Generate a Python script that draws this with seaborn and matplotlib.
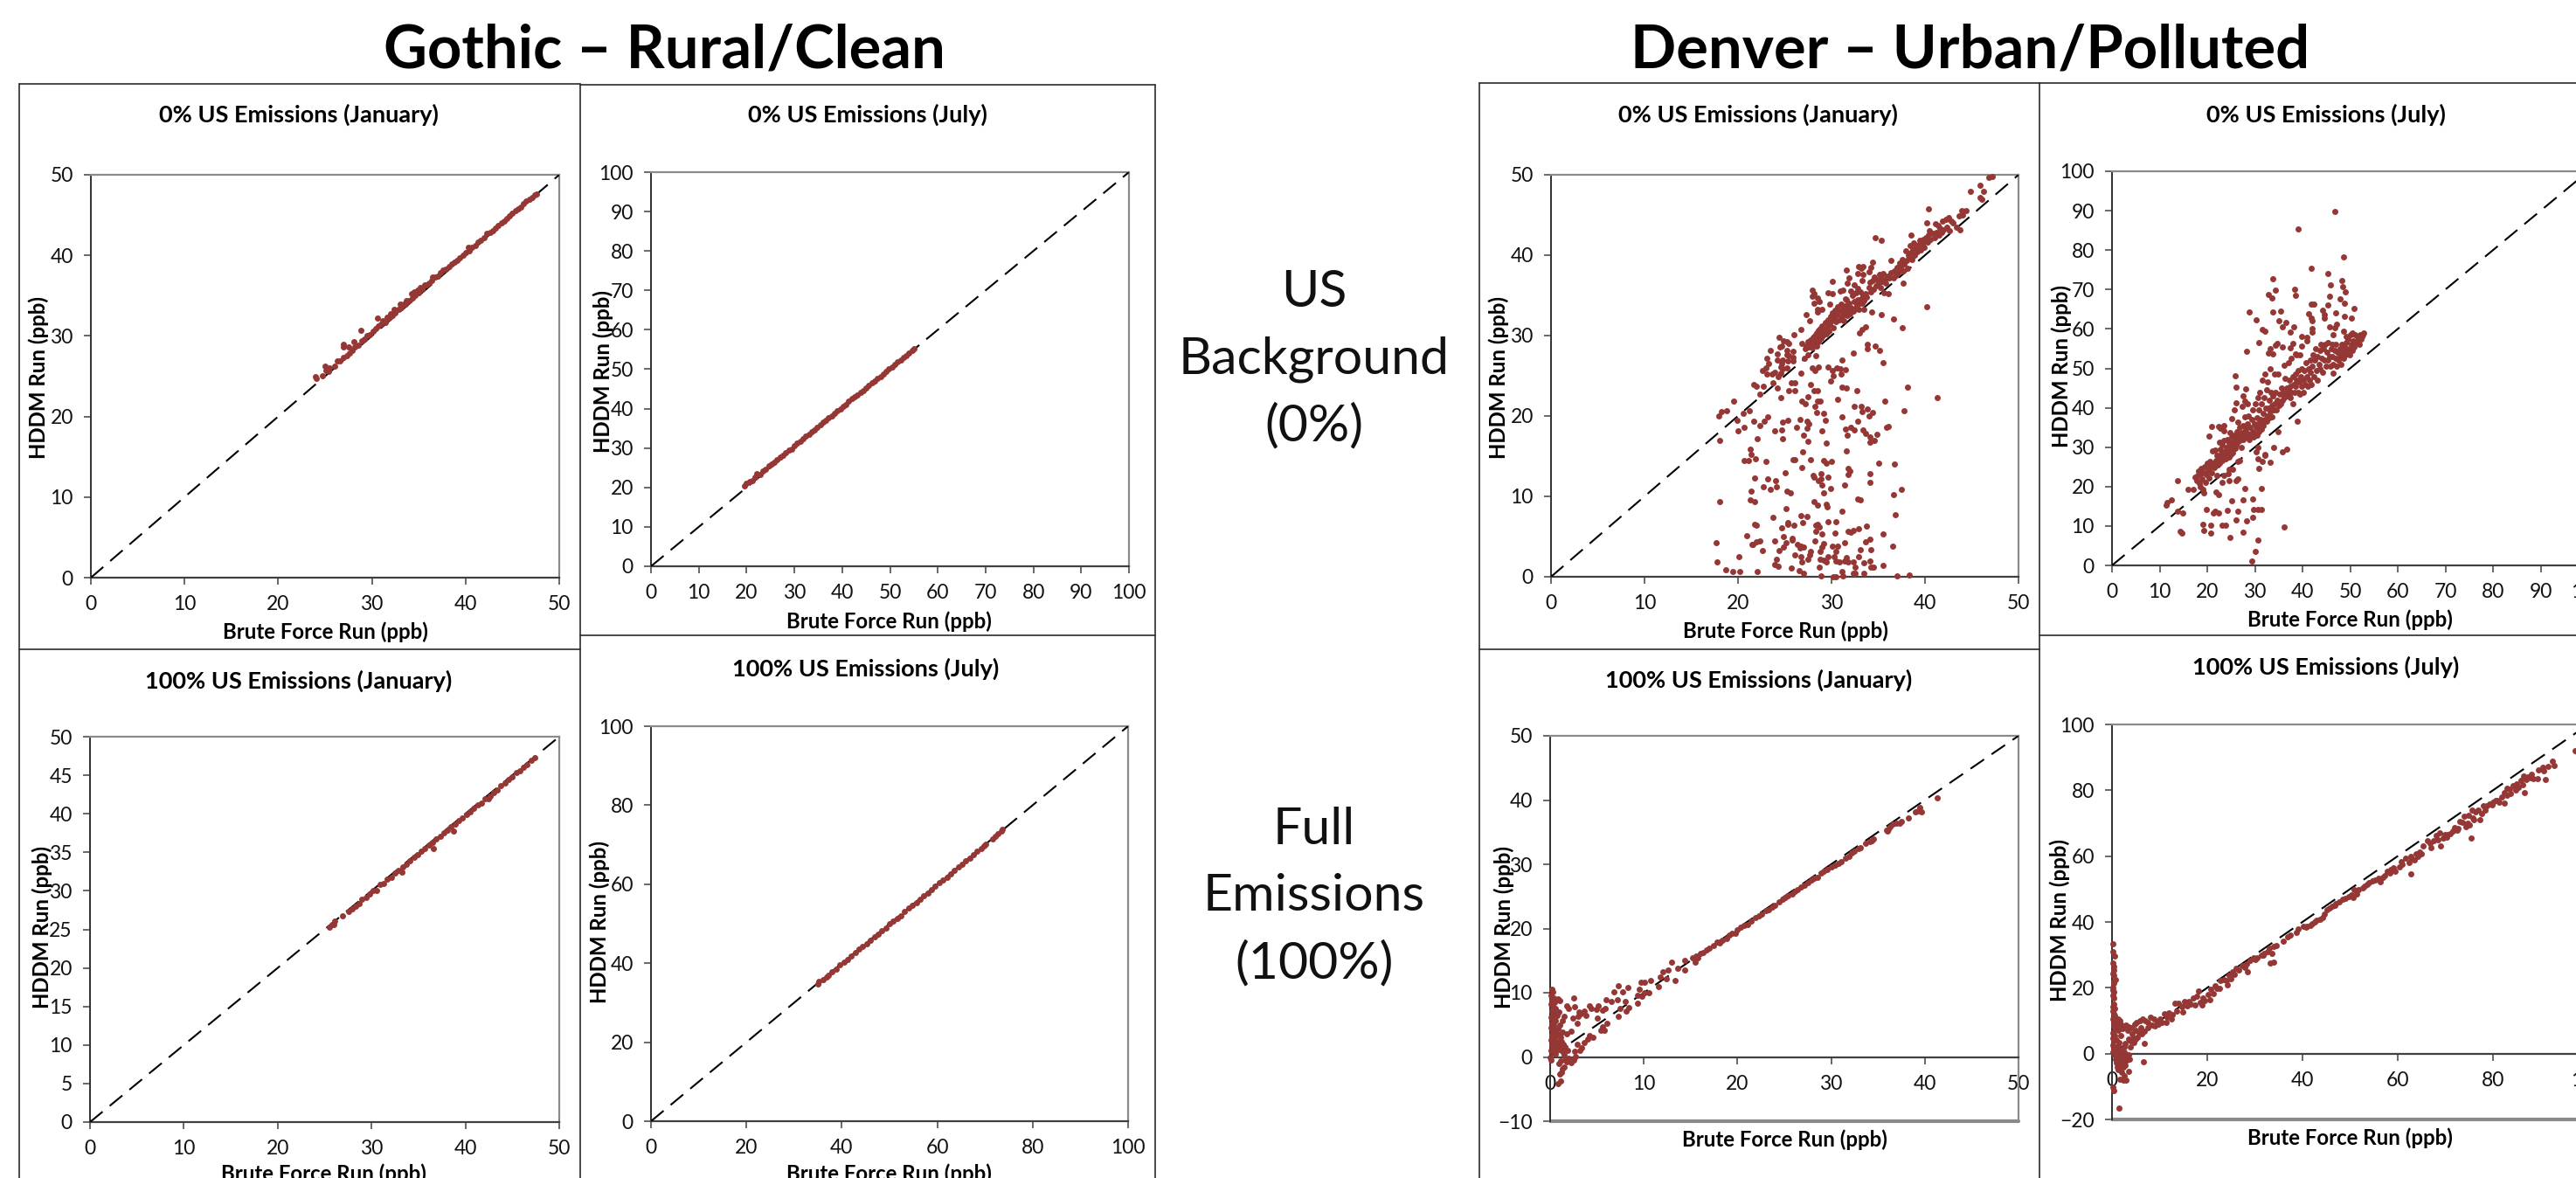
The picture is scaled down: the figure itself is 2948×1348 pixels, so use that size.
import matplotlib
matplotlib.use("Agg")
import matplotlib.pyplot as plt
from matplotlib.lines import Line2D
import pandas as pd
import seaborn as sns

W, H = 2948, 1348
RED = "#953735"

# valores (Brute Force, HDDM)
got_jan0 = [(24.0,24.9),(24.1,24.7),(24.7,25.1),(25.0,26.3),(25.1,25.7),(25.5,26.0),(25.4,25.6),(26.0,26.2),(26.3,26.9),(26.6,26.9),(27.0,29.0),(27.0,28.6),(27.5,28.6),(28.1,29.3),(28.8,30.7),(30.6,32.2),
(27.0,27.3),(27.3,27.6),(27.6,27.9),(27.9,28.2),(28.2,28.6),(28.5,28.9),(28.9,29.4),(29.2,29.6),(29.5,30.0),(29.8,30.2),(30.1,30.6),(30.4,30.9),(30.7,31.2),(31.0,31.5),(31.2,31.9),(31.4,31.7),(31.6,32.3),(31.8,32.2),(32.0,32.8),(32.2,32.5),(32.4,33.3),(32.5,32.9),(32.8,33.3),(33.0,34.0),(33.1,33.5),(33.4,33.9),(33.6,34.0),(33.7,34.4),(34.0,34.4),(34.2,35.2),(34.3,34.7),(34.5,35.5),(34.6,35.0),(34.9,35.7),(35.0,35.4),(35.2,36.0),(35.4,35.8),(35.6,36.3),(35.8,36.3),(36.1,36.6),(36.4,36.9),(36.5,37.3),(36.8,37.3),(37.0,37.4),(37.3,37.9),(37.6,38.2),(37.9,38.3),(38.2,38.6),(38.5,38.9),(38.8,39.1),(39.1,39.4),(39.4,39.7),(39.7,40.0),(40.0,40.4),(40.3,41.0),(40.4,40.6),(40.7,41.0),(41.0,41.2),(41.3,41.6),(41.6,41.9),(42.0,42.2),(42.3,42.7),(42.6,42.8),(42.9,43.1),(43.2,43.4),(43.5,43.7),(43.8,44.0),(44.1,44.3),(44.4,44.6),(44.7,44.9),(45.0,45.2),(45.3,45.5),(45.6,45.8),(45.9,46.0),(46.2,46.4),(46.5,46.7),(46.8,47.0),(47.1,47.2),(47.4,47.5),(47.6,47.6)]

got_jul0 = [(19.5,20.4),(20.0,21.0),(20.6,21.4),(21.2,21.8),(21.8,22.6),(22.2,23.4),(22.8,23.2),(23.4,24.1),(24.0,24.6),(24.6,25.4),(25.2,26.0),(25.8,26.4),(26.4,27.0),(27.0,27.7),(27.6,28.2),(28.2,28.8),(28.8,29.4),(29.4,29.8),(30.0,30.6),(30.6,31.2),(31.2,31.8),(31.8,32.4),(32.4,33.0),(33.0,33.5),(33.6,34.1),(34.2,34.7),(34.8,35.3),(35.4,35.9),(36.0,36.5),(36.6,37.0),(37.2,37.6),(37.8,38.2),(38.4,38.8),(39.0,39.4),(39.6,40.0),(40.2,40.5),(40.8,41.1),(41.4,41.8),(42.0,42.6),(42.6,43.0),(43.2,43.5),(43.8,44.1),(44.4,44.6),(45.0,45.2),(45.6,45.9),(46.2,46.5),(46.8,47.0),(47.4,47.6),(48.0,48.2),(48.6,48.8),(49.2,49.4),(49.8,50.0),(50.4,50.5),(51.0,51.2),(51.6,51.8),(52.2,52.4),(52.8,53.0),(53.4,53.5),(54.0,54.2),(54.6,54.8),(55.0,55.2)]

got_jan100 = [(25.5,25.3),(25.8,25.6),(26.0,25.6),(26.1,26.1),(26.9,26.8),(27.6,27.3),(27.9,27.7),(28.3,28.0),(28.7,28.4),(29.0,28.9),(29.4,29.1),(29.8,29.6),(30.2,30.0),(30.5,30.1),(30.9,30.8),(31.3,31.0),(31.7,31.5),(32.1,31.8),(32.5,32.3),(32.9,32.6),(33.2,32.4),(33.3,33.1),(33.7,33.5),(34.1,33.9),(34.5,34.3),(34.9,34.7),(35.3,35.1),(35.7,35.5),(36.1,35.9),(36.5,36.3),(36.6,35.5),(36.9,36.7),(37.3,37.1),(37.7,37.5),(38.1,37.9),(38.5,38.3),(38.7,37.8),(38.9,38.7),(39.3,39.1),(39.7,39.5),(40.1,39.9),(40.5,40.3),(40.9,40.7),(41.3,41.1),(41.7,41.4),(42.1,41.9),(42.5,42.0),(42.6,42.3),(43.0,42.8),(43.4,43.1),(43.8,43.6),(44.2,44.0),(44.6,44.4),(45.0,44.8),(45.4,45.3),(45.8,45.6),(46.2,46.0),(46.6,46.4),(47.0,46.9),(47.4,47.3)]

got_jul100 = [(35.0,34.8),(35.2,35.4),(36.0,35.9),(36.8,36.5),(37.2,37.0),(38.0,37.8),(38.8,38.6),(39.6,39.5),(40.4,40.2),(41.2,41.0),(42.0,41.8),(42.8,42.6),(43.6,43.5),(44.4,44.2),(45.2,45.0),(46.0,45.8),(46.8,46.7),(47.6,47.4),(48.4,48.2),(49.2,49.0),(50.0,49.9),(50.8,50.6),(51.6,51.4),(52.4,52.1),(53.2,53.0),(54.0,53.9),(54.8,54.6),(55.6,55.4),(56.4,56.1),(57.2,57.0),(58.0,57.8),(58.8,58.7),(59.6,59.5),(60.4,60.3),(61.2,61.0),(62.0,61.8),(62.8,62.7),(63.6,63.5),(64.4,64.3),(65.2,65.0),(66.0,65.9),(66.8,66.7),(67.6,67.5),(68.4,68.3),(69.2,69.0),(69.8,69.6),(70.2,70.2),(71.6,71.4),(72.2,72.1),(72.8,72.7),(73.4,73.4),(73.7,73.8)]

den_jan0 = [(17.9,20.0),(18.2,20.5),(18.8,20.6),(19.5,21.8),(18.0,17.0),(18.0,9.4),(17.7,4.2),(17.8,1.9),(18.7,0.9),(19.4,0.7),(20.2,0.6),(20.1,2.5),(19.9,19.5),(20.0,18.1),(20.6,20.3),(20.7,18.6),(21.2,20.7),(21.7,19.3),(22.3,18.8),(22.8,19.3),(23.2,19.9),(22.1,17.2),(21.3,15.9),(21.4,15.2),(20.7,14.5),(21.1,14.5),(21.9,14.7),(23.0,14.3),(21.8,12.3),(23.2,12.2),(24.0,12.0),(22.7,11.2),(23.5,10.9),(24.1,11.2),(21.4,10.6),(21.3,9.6),(21.8,9.4),(23.7,7.4),(21.8,6.5),(22.0,6.4),(20.9,5.1),(21.5,4.0),(21.6,4.0),(22.0,4.3),(22.3,4.5),(22.6,3.3),(23.9,4.5),(22.1,0.6),(24.1,2.2),(23.9,1.5),(24.3,1.3),(24.4,3.3),(24.9,3.7),(24.9,5.0),(25.1,4.2),(24.7,6.1),(25.3,6.5),(25.3,6.7),(26.0,6.4),(25.8,4.6),(25.8,4.8),(26.1,2.7),(25.7,1.1),(26.5,0.8),(27.0,0.4),(26.7,2.5),(26.8,1.9),(26.4,4.0),(26.6,3.6),(26.7,3.8),(27.0,3.7),(26.7,7.6),(27.4,7.5),(26.9,6.7),(25.1,8.5),(25.2,10.6),(25.6,10.4),(25.0,12.9),(25.9,14.6),(26.1,14.6),(26.8,13.6),(26.9,15.5),(27.8,14.6),(27.5,16.8),(27.0,17.6),(26.3,18.6),(27.4,18.5),(26.6,19.6),(27.4,19.4),(27.6,19.0),(24.7,18.3),(23.9,18.2),(24.8,17.2),(24.8,19.2),(25.3,19.5),(24.6,22.3),(25.4,23.2),(26.1,23.2),(25.7,24.1),(26.1,24.1),(26.8,21.9),(27.2,21.5),(27.5,22.4),(27.8,23.9),(28.1,23.2),(28.5,23.2),(28.2,21.2),(28.5,21.9),(28.8,21.8),(28.4,20.4),(29.2,20.3),(29.3,19.5),(29.0,18.1),(29.4,16.6),(29.2,14.5),(29.4,14.1),(30.0,14.4),(28.0,12.6),(28.1,12.4),(28.9,12.8),(28.6,12.0),(28.9,12.2),(29.6,12.4),(29.0,11.4),(29.9,11.0),(29.2,10.4),(28.1,9.4),(28.5,8.9),(29.4,9.0),(29.5,8.7),(31.1,8.2),
(30.7,22.1),(31.1,19.9),(31.1,23.6),(31.6,23.5),(32.7,23.1),(32.4,21.2),(33.2,21.2),(33.8,20.9),(33.3,20.5),(34.4,20.4),(34.0,20.0),(32.8,19.3),(31.5,18.4),(32.1,18.6),(32.4,18.3),(31.7,17.6),(33.4,18.3),(33.6,17.8),(34.1,17.4),(34.9,17.7),(34.6,17.0),(34.1,16.7),(35.9,18.6),(36.1,18.7),(35.7,21.9),(37.8,20.6),(38.1,23.6),(41.3,22.3),(40.2,33.6),(31.6,15.6),(31.8,13.5),(32.0,13.1),(31.8,12.7),(31.4,11.4),(35.0,14.1),(36.7,14.0),(34.1,12.8),(34.1,11.7),(32.8,9.7),(33.1,9.6),(36.6,10.2),(37.5,10.9),(36.8,7.7),(36.5,3.8),(35.5,5.3),(35.5,1.4),
(28.3,6.4),(28.5,6.5),(28.7,6.2),(28.3,5.6),(29.0,5.3),(29.6,6.8),(30.5,6.9),(30.4,5.4),(28.2,4.5),(29.2,4.1),(29.0,3.7),(28.8,3.2),(27.8,3.2),(27.7,2.7),(27.5,2.2),(28.8,2.2),(29.2,2.1),(29.4,1.9),(29.6,2.5),(28.7,1.2),(28.9,0.1),(30.1,3.8),(30.7,3.8),(31.4,4.2),(30.5,3.2),(30.3,2.5),(30.5,2.0),(30.8,1.8),(31.6,2.4),(31.4,2.0),(31.8,1.8),(32.3,1.9),(31.1,0.7),(31.2,0.1),(30.5,0.0),(30.2,0.0),(32.3,0.4),(32.5,0.4),(33.5,0.4),(32.5,1.2),(31.8,5.6),(32.1,5.5),(32.3,5.8),(32.9,6.0),(33.7,6.3),(34.1,4.7),(33.6,4.3),(33.1,3.4),(34.2,3.4),(32.9,2.5),(34.1,2.0),(33.5,1.7),(34.2,1.2),(34.5,1.2),(37.0,0.1),(38.3,0.2),
(29.9,24.4),(30.2,25.0),(30.1,25.6),(29.6,26.1),(30.6,26.0),(30.9,25.9),(31.0,25.2),(31.5,25.8),(31.1,27.0),(32.3,27.8),(28.6,26.1),(27.9,26.0),(28.2,25.6),(26.7,25.3),(33.8,28.9),(33.8,28.4),(34.7,28.7),(35.1,28.2),(35.5,26.6),(33.0,30.3),(33.3,30.8),(33.6,31.1),(37.6,31.0),(36.6,32.1),(35.3,32.6),(34.3,32.9),(33.5,33.3),(37.7,36.5),(34.7,42.2),(35.3,41.9),(40.4,45.8),
(21.7,23.9),(22.0,23.7),(22.7,23.7),(22.3,22.7),(23.7,24.1),(24.2,23.5),(24.3,24.9),(24.6,25.3),(22.6,25.7),(23.1,25.2),(23.6,25.2),(23.9,25.4),(23.0,26.0),(23.3,26.5),(23.1,27.2),(23.5,28.1),(24.2,27.0),(24.2,27.7),(24.5,28.6),(24.4,29.8),(24.7,28.7),(24.9,29.4),(25.2,29.2),(25.4,29.0),(24.8,27.0),(24.7,26.5),(24.6,26.1),(24.8,25.9),(25.2,26.0),(25.3,26.8),(25.2,27.6),(25.4,27.5),(25.2,28.2),(25.9,28.0),(25.9,27.3),(25.9,26.9),(26.0,30.1),(26.7,30.8),(26.8,29.0),(27.1,27.2),(27.2,28.4),(27.3,32.6),(27.7,31.8),(27.5,27.6),(28.3,27.5),(27.9,35.6),(28.1,35.2),(27.9,34.9),(28.5,34.7),(28.7,34.2),(28.1,34.0),(28.5,33.3),(28.5,32.9),(29.0,33.3),(29.8,33.9),(29.6,35.3),(30.1,35.2),(30.1,36.7),
(27.3,28.7),(27.5,29.2),(27.6,28.6),(27.7,29.0),(27.8,29.5),(27.9,28.5),(28.0,29.8),(28.0,29.2),(28.1,28.8),(28.2,30.0),(28.3,29.4),(28.4,28.7),(28.4,30.3),(28.5,29.8),(28.6,30.6),(28.6,29.2),(28.7,30.1),(28.8,30.9),(28.9,29.7),(29.0,30.4),(29.0,31.2),(29.1,30.0),(29.2,30.7),(29.3,31.6),(29.4,30.2),(29.5,31.0),(29.6,32.0),(29.7,30.5),(29.8,31.4),(29.9,32.4),(30.0,31.8),(30.1,32.8),(30.2,31.0),(30.3,32.2),(30.4,33.2),(30.5,31.7),(30.6,32.6),(30.7,33.6),(30.8,32.0),(30.9,33.0),(31.0,33.9),(31.1,32.4),(31.2,33.3),(31.3,31.8),(31.4,32.8),(31.5,33.7),(31.6,34.5),(31.7,32.5),(31.8,33.2),(31.9,34.0),(32.0,32.7),(32.1,33.5),(32.2,35.0),(32.3,33.0),(32.4,34.2),(32.5,33.4),(32.6,35.3),(32.7,33.8),(32.8,34.5),(32.9,33.3),(33.0,34.0),(33.1,35.4),(33.2,34.6),(33.3,34.0),(33.4,35.0),(33.5,34.4),(33.6,35.2),(33.7,34.8),
(31.6,38.2),(31.9,37.2),(31.7,36.5),(32.9,38.6),(33.2,38.4),(33.4,38.6),(32.8,37.7),(33.4,37.6),(33.3,36.9),(34.4,39.1),(34.2,38.5),(34.0,37.9),(32.4,36.3),(32.8,35.9),(32.1,35.5),(31.2,35.6),(30.9,35.5),(31.5,34.6),
(34.0,36.0),(34.1,36.6),(34.2,35.4),(34.4,36.9),(34.5,35.8),(34.6,37.3),(34.8,36.2),(34.9,37.0),(35.0,36.5),(35.1,37.6),(35.2,36.0),(35.3,37.2),(35.4,36.7),(35.5,37.7),(35.6,35.3),(35.7,37.0),(35.8,36.5),(36.0,37.4),(36.1,35.2),(36.2,37.2),(36.4,37.8),(36.6,37.2),(36.4,39.3),(36.7,38.0),(36.9,37.5),(37.0,38.5),(37.1,37.8),(37.3,39.0),(37.4,38.2),(37.5,38.7),(37.6,39.5),(37.7,38.0),(37.8,38.9),(37.9,40.5),(38.0,39.3),(38.1,38.4),(38.2,40.0),(38.3,39.7),(38.4,41.2),(38.5,40.3),(38.6,39.5),(38.7,40.7),(38.8,41.5),(38.9,40.0),(39.0,40.9),(38.5,42.5),(39.2,40.4),(39.3,41.3),(39.4,41.8),(39.5,40.7),(39.7,41.4),(39.8,42.0),(39.9,41.0),(40.0,41.7),(40.1,42.2),(40.2,44.0),(40.3,41.6),(40.4,42.5),(40.5,43.0),(40.6,42.0),(40.8,42.7),(41.0,42.2),(41.1,43.9),(41.2,42.8),(41.4,43.7),(41.5,42.5),(41.6,43.4),(41.8,42.8),(41.9,44.2),(42.0,43.2),(42.2,44.5),(42.3,43.5),(42.5,44.7),(42.6,43.0),(42.8,44.2),(43.0,44.0),(43.4,43.5),(43.7,43.1),(43.6,44.9),(43.9,45.5),(44.0,45.0),(44.4,45.5),(44.9,47.9),(45.9,47.2),(46.1,47.0),(45.9,48.7),(46.3,47.9),(46.8,49.7),(47.2,49.8)]

den_jul0 = [(46.8,89.7),(39.0,85.4),(48.6,78.2),(41.9,75.4),(45.4,74.1),(48.2,72.2),(45.8,71.1),(48.5,70.7),(49.0,69.4),(45.7,68.3),(47.9,67.6),(48.8,66.5),(45.3,66.0),(50.8,65.1),(41.8,66.4),(42.4,66.3),(44.2,64.7),(44.6,63.7),(44.6,62.7),(41.3,63.8),(41.8,62.8),(42.0,62.1),(46.9,64.0),(48.8,63.2),(50.3,62.7),(45.7,60.6),(47.1,61.2),(46.8,60.2),(42.1,60.0),(42.1,59.1),(46.4,58.5),(33.8,72.7),(34.3,69.8),(38.3,70.0),(38.5,68.6),(32.9,68.8),(33.5,67.8),(28.8,64.3),(30.3,62.4),(33.8,64.4),(35.4,64.6),(35.1,62.0),(36.6,61.7),(35.7,60.5),(38.1,60.6),(37.4,59.1),(31.5,59.9),(32.2,59.5),(30.9,56.6),(28.2,54.3),(33.2,55.0),(32.9,53.9),(33.8,53.7),(34.4,55.8),(34.7,56.3),(35.7,55.4),(37.9,56.3),(37.4,55.1),(39.8,58.0),(40.9,57.9),(41.0,56.9),(39.8,55.6),(38.5,53.7),(38.8,53.5),(39.4,53.4),(25.9,48.2),(26.0,45.3),(28.1,44.9),(27.6,43.1),(26.0,41.3),(27.9,41.6),(28.5,41.1),(25.7,39.4),(27.4,40.4),(25.1,37.3),(27.8,37.6),(26.5,36.3),(20.9,35.3),(22.3,35.3),(22.8,34.8),(23.5,35.5),(23.5,34.1),(20.4,32.8),(22.6,31.3),
(13.8,21.6),(12.5,16.6),(11.6,16.0),(11.3,15.2),(13.8,13.7),(14.9,13.3),(14.3,8.7),(14.7,8.3),(15.9,19.4),(17.1,19.4),(19.0,10.5),(19.2,8.8),(20.7,10.2),(20.7,8.2),(19.9,14.3),(21.2,13.3),(21.7,13.7),(22.4,13.2),(23.2,10.1),(23.8,10.1),(24.7,7.2),(24.3,13.9),(25.2,16.3),(26.4,13.8),(26.0,11.6),(28.2,11.3),(27.5,8.5),(27.6,16.7),(27.8,19.5),(29.5,16.8),(29.7,14.2),(29.6,12.1),(30.7,14.1),(31.3,14.1),(31.3,19.6),(30.7,6.5),(30.1,3.5),(29.3,1.1),(36.2,9.7),(21.9,18.7),(22.4,17.9),(23.2,21.0),(24.6,21.5),(26.1,21.6),(26.4,22.0),(23.5,22.9),(24.4,23.2),(25.3,24.5),(24.6,24.5),(26.5,26.3),(26.8,26.5),(33.2,26.2),(32.2,28.2),(32.1,27.9),(30.9,24.7),(31.6,26.4),(30.6,27.1),(30.3,28.8),(30.7,29.9),(34.0,30.0),(35.7,28.9),(36.7,29.4),(34.9,34.0),(38.9,36.6),(46.4,48.8),
(17.5,22.3),(17.8,21.5),(18.0,22.8),(18.2,24.0),(18.3,20.8),(18.5,23.2),(18.6,20.0),(18.8,24.6),(18.9,22.0),(19.0,19.2),(19.2,23.5),(19.3,18.3),(19.4,25.0),(19.6,21.0),(19.8,23.0),(20.0,26.0),(20.2,24.2),(20.4,22.2),(20.6,26.3),(20.8,25.0),(21.0,23.5),(21.1,29.0),(21.3,26.0),(21.5,24.8),(21.6,29.2),(21.8,26.6),(22.0,22.8),(22.0,28.0),(22.2,25.5),(22.4,27.2),(22.6,26.0),(22.7,29.5),(22.9,28.3),(23.1,26.6),(23.2,30.5),(23.4,27.5),(23.5,31.7),(23.6,28.8),(23.8,27.0),(24.0,30.0),(24.1,28.0),(24.2,32.0),(24.3,29.0),(24.5,27.6),(24.6,31.0),(24.7,29.5),(24.8,33.7),(24.9,28.2),(25.0,30.6),(25.1,32.5),(25.2,29.0),(25.3,31.2),(25.4,28.7),(25.5,30.0),(25.6,33.0),(25.7,31.5),(25.8,29.8),(26.0,32.0),(26.1,30.5),(26.2,34.0),(26.3,31.0),(26.5,33.0),(26.7,31.8),(26.8,35.0),(27.0,32.5),(27.1,30.0),(27.3,33.8),(27.5,32.0),(27.6,35.5),(27.8,33.0),(28.0,34.5),(28.2,32.5),(28.4,36.0),(28.5,33.5),(28.7,38.0),(28.8,32.0),(29.0,35.0),(29.2,33.0),(29.3,37.0),(29.5,34.0),(29.6,39.5),(29.7,32.5),(29.9,36.0),(30.0,33.5),(30.1,41.0),(30.2,35.0),(30.4,37.5),(30.5,33.0),(30.6,42.5),(30.7,36.0),(30.8,34.0),(30.9,39.5),(31.0,35.0),(31.1,44.0),(31.2,37.0),(31.3,34.5),(31.4,41.0),(31.5,36.0),(31.6,47.0),(31.7,38.5),(31.8,35.5),(32.0,42.5),(32.1,37.0),(32.2,48.5),(32.3,40.0),(32.4,36.5),(32.5,44.5),(32.6,38.0),(32.7,46.5),(32.8,40.0),(33.0,37.5),(33.1,42.0),(33.2,50.0),(33.3,39.0),(33.4,44.0),(33.5,37.8),(33.6,40.5),(33.8,43.0),(34.0,39.5),(34.1,48.5),(34.2,41.0),(34.4,44.0),(34.5,39.5),(34.7,42.0),(34.8,48.5),(35.0,40.5),(35.2,43.5),(35.4,41.0),(35.6,45.0),(35.8,42.0),(36.0,44.0),(36.1,50.7),(36.2,42.5),(36.4,47.5),(36.5,43.5),(36.7,45.0),(36.9,43.0),(37.0,51.5),(37.1,44.5),(37.3,47.0),(37.4,42.5),(37.5,45.5),(37.6,52.5),(37.7,44.0),(37.9,48.0),(38.0,41.0),(38.1,46.0),(38.3,44.0),(38.5,48.5),(38.6,45.5),(38.8,47.0),(39.0,44.0),(39.1,49.5),(39.3,46.5),(39.4,43.5),(39.6,48.0),(39.8,45.5),(39.9,50.0),(40.1,47.0),(40.2,44.0),(40.4,49.5),(40.6,46.0),(40.7,51.5),(40.9,48.0),(41.1,45.5),(41.2,50.0),(41.4,47.0),(41.6,52.0),(41.7,49.0),(41.9,46.0),(42.1,50.5),(42.2,53.5),(42.4,48.0),(42.6,52.0),(42.7,55.0),(42.9,49.5),(43.1,53.0),(43.2,47.0),(43.4,51.0),(43.6,54.5),(43.7,50.0),(43.9,56.0),(44.1,52.5),(44.2,49.0),(44.4,55.0),(44.6,52.0),(44.8,56.0),(44.9,50.5),(45.1,54.0),(45.3,52.0),(45.4,56.5),(45.6,53.0),(45.8,50.5),(46.0,55.0),(46.2,53.0),(46.3,56.0),(46.5,51.0),(46.7,54.5),(46.9,52.5),(47.0,56.0),(47.2,50.5),(47.4,54.0),(47.6,52.0),(47.8,55.0),(47.9,53.0),(48.1,51.0),(48.2,56.0),(48.4,54.0),(48.6,52.5),(48.7,59.5),(48.8,55.5),(49.0,53.5),(49.1,58.0),(49.2,56.5),(49.4,54.5),(49.6,57.5),(49.7,55.0),(49.9,53.5),(50.1,58.5),(50.2,56.0),(50.4,54.5),(50.5,59.0),(50.7,57.0),(50.9,55.5),(51.1,58.5),(51.3,56.5),(51.5,58.0),(51.7,57.5),(51.9,56.0),(52.1,58.5),(52.3,57.5),(52.5,58.0),(52.7,58.5),(52.9,59.0)]

den_jan100 = [(41.3,40.3),(39.0,38.2),(39.3,38.3),(39.5,38.8),(39.6,38.2),(38.2,37.2),(37.5,36.7),(37.3,36.4),(36.9,36.4),(36.6,36.2),(36.3,35.8),(36.1,35.5),(35.9,35.3),(36.0,35.2),(34.5,34.0),(34.3,33.7),(34.1,33.6),(33.7,33.2),(33.1,32.6),(32.9,32.4),(32.5,32.1),(32.2,31.8),(31.9,31.2),(31.5,31.0),(31.1,30.4),(30.8,30.2),(30.4,29.9),(30.0,29.6),(29.6,29.2),(29.2,28.9),(28.9,28.6),(28.5,28.0),(28.2,27.8),(27.9,27.6),(27.5,27.2),(27.1,26.8),(26.8,26.5),(26.4,26.1),(26.1,25.8),(25.8,25.4),(25.4,25.1),(25.1,24.8),(24.8,24.5),(24.4,24.2),(24.0,23.6),(23.7,23.3),(23.3,22.9),(23.0,22.8),(22.6,22.3),(22.3,22.0),(21.9,21.7),(21.5,21.2),(21.1,20.6),(20.7,20.5),(20.3,20.2),(20.0,19.8),(19.8,19.2),(19.4,19.2),(19.1,19.0),(18.8,18.5),(18.4,18.1),(18.1,17.8),(17.8,17.9),(17.4,17.4),(17.0,16.9),(16.7,16.6),(16.3,16.3),(16.0,16.1),(15.8,15.4),(15.6,15.7),(15.5,14.7),(15.2,15.5),
(0.0,0.0),(0.1,-0.5),(0.2,10.5),(0.3,10.2),(0.1,9.6),(0.4,9.2),(0.2,8.9),(0.5,8.5),(0.1,8.2),(0.3,7.9),(0.6,7.5),(0.2,7.2),(0.4,6.9),(0.7,6.5),(0.1,6.2),(0.3,5.9),(0.6,5.6),(0.2,5.2),(0.4,4.9),(0.1,4.5),(0.5,4.2),(0.3,3.9),(0.7,3.6),(0.2,3.3),(0.5,3.0),(0.1,2.7),(0.4,2.4),(0.7,2.1),(0.2,1.8),(0.5,1.5),(0.9,1.2),(0.1,1.0),(0.3,0.7),(0.6,0.5),(0.8,9.0),(1.0,8.8),(0.9,7.0),(1.0,5.0),(1.1,3.0),(0.9,3.5),(1.2,2.4),(1.4,2.0),(1.6,1.5),(1.0,1.6),(1.3,0.9),(0.8,-4.2),(1.1,-3.8),(1.0,-2.7),(1.2,-2.4),(1.3,-1.8),(1.5,-1.5),(0.9,-1.0),(1.1,-0.6),(1.6,-0.5),(1.8,-0.8),(2.2,-0.9),(2.5,-0.5),(2.0,-0.2),(1.5,0.3),(2.7,0.1),(0.5,6.0),(0.8,4.4),(0.6,3.2),(0.8,2.4),(0.4,1.2),
(2.5,9.2),(1.8,8.0),(2.0,7.6),(2.6,7.8),(1.5,6.3),(1.3,5.6),(2.4,6.0),(2.9,5.2),(3.0,6.3),(3.3,6.8),(3.6,7.2),(4.2,7.9),(5.1,7.9),(6.0,8.9),(6.8,10.1),(7.3,11.1),(7.7,10.1),(8.3,10.8),(7.2,8.9),(8.0,8.7),(9.5,10.6),(10.1,11.7),(10.7,11.9),(9.7,11.6),(1.3,3.9),(1.8,3.6),(2.2,4.0),(4.0,2.8),(3.4,1.4),(2.9,2.0),(4.2,3.3),(4.6,3.1),(5.0,6.0),(5.6,4.7),(6.1,5.2),(5.4,4.1),(7.3,6.3),(7.5,7.6),(8.1,7.1),(9.3,8.4),(10.1,10.0),(10.5,10.0),(11.6,10.9),(11.8,12.4),(12.0,13.3),(12.4,12.2),(13.0,14.8),(13.3,11.9),(14.4,13.5),(14.4,15.0),(12.6,13.5),(13.6,13.8),(3.1,7.0),(3.8,6.4),(4.4,7.6),(5.6,7.3),(5.9,7.5),(6.5,8.6),(8.4,7.7),(9.3,9.6),(9.8,9.5),(4.9,7.4),(5.8,4.2),(3.6,2.3),(3.2,1.0),(2.6,0.9),(1.9,1.0)]

den_jul100 = [(97.2,92.0),(97.6,91.8),(92.5,88.8),(92.8,87.6),(91.5,87.3),(90.5,87.0),(90.7,85.8),(91.0,83.3),(89.5,86.1),(89.3,83.6),(88.0,84.8),(87.8,83.9),(87.3,84.0),(87.0,83.4),(86.5,84.3),(85.8,83.0),(86.2,81.8),(86.6,79.2),(85.0,82.0),(84.3,81.5),(84.7,80.0),(83.5,80.3),(83.0,80.5),(82.3,79.3),(82.4,76.0),(83.0,78.5),(81.8,78.0),(81.3,76.3),(80.5,77.0),(80.0,76.4),(79.3,75.8),(78.7,75.4),(78.0,75.3),(77.7,73.0),(77.3,71.0),(76.9,74.0),(76.3,73.5),(75.8,71.7),(75.4,65.4),(75.0,69.4),(75.6,73.9),(74.8,72.3),(74.0,72.0),(74.3,69.0),(73.6,70.3),(73.0,70.4),(72.7,68.4),(72.0,68.6),(71.6,67.5),(71.0,66.9),(70.5,66.6),(69.9,66.5),(69.5,65.6),(69.0,63.2),(68.8,67.0),(68.0,66.2),(67.5,64.6),(66.9,62.5),(66.3,64.6),(65.4,63.0),(65.0,60.7),(64.5,61.3),(63.8,60.8),(63.4,58.9),(62.8,60.0),(62.3,58.0),(62.8,54.5),(61.7,59.5),(61.0,57.5),(60.4,56.8),(59.4,55.3),(59.0,56.4),(58.3,54.8),(57.8,55.5),(57.2,54.0),(56.4,52.3),(56.8,53.6),(55.9,53.2),(54.7,52.6),(54.0,52.0),(53.5,51.3),(52.7,50.3),(51.8,49.8),(51.4,48.6),(50.9,49.7),(50.3,48.2),(49.7,47.7),(49.0,47.3),(48.4,46.8),(47.7,46.2),(47.0,45.5),(46.3,44.7),(45.7,44.2),(45.2,43.7),(44.6,42.3),(44.3,41.3),(43.0,40.6),(42.5,40.0),(42.0,39.4),(41.6,39.0),(41.0,38.8),(40.2,38.7),(39.0,37.8),(38.7,36.9),(37.5,36.0),(36.8,35.4),(36.0,34.2),(34.5,32.9),(34.0,32.5),(33.9,27.9),(33.3,27.6),(33.5,30.4),(33.1,32.0),(32.6,30.9),(32.0,30.5),(31.3,29.9),(30.5,29.2),(29.7,29.0),(29.0,28.3),(28.5,24.9),(28.2,27.3),(27.3,26.8),(26.6,25.3),(26.0,25.9),(25.3,24.8),(25.0,22.8),(24.5,23.8),(24.2,20.9),(23.5,22.4),(22.8,22.1),(22.6,19.8),(22.0,19.7),(21.6,20.6),(21.2,18.2),(20.8,19.5),(20.5,16.4),(20.2,18.0),(19.5,16.1),(19.0,17.0),(18.6,15.5),(18.2,19.0),(17.8,17.5),(17.0,16.8),(16.5,15.1),(16.2,15.8),(15.7,14.5),(15.2,15.9),(14.7,14.3),(14.0,15.4),(13.6,12.8),(13.2,15.4),(12.6,11.9),(12.0,12.4),(11.5,11.0),(11.0,12.0),(10.5,9.6),(10.0,10.6),(9.5,9.7),(9.0,8.3),(8.5,8.6),(8.0,11.0),(7.5,8.0),(7.0,10.0),(6.8,6.9),(6.4,10.4),(6.2,6.0),(5.8,9.9),(5.6,6.2),(5.2,9.6),(5.0,4.5),(5.0,7.1),(4.5,3.4),(4.2,6.0),(3.8,2.1),(3.5,-0.3),(6.8,3.0),(6.6,-2.4),
(0.1,33.4),(0.1,31.1),(0.5,29.7),(0.2,27.4),(0.3,26.5),(0.4,25.5),(0.2,24.3),(0.7,22.6),(0.3,21.5),(0.2,20.0),(0.4,18.8),(0.2,17.7),(0.3,15.0),(0.5,13.8),(0.1,12.8),(0.6,11.6),(0.2,10.6),(0.4,9.6),(1.0,9.0),(1.6,10.0),(1.4,8.6),(0.3,8.4),(0.7,7.4),(1.2,7.0),(2.2,7.6),(0.2,6.4),(0.6,5.5),(1.8,5.6),(0.1,4.6),(0.4,3.8),(0.9,4.2),(1.4,3.4),(0.2,2.6),(0.7,2.0),(1.2,2.3),(0.3,1.2),(0.9,0.8),(1.6,1.0),(0.1,0.4),(0.5,-0.3),(1.0,-0.8),(1.5,-0.3),(2.0,0.2),(2.6,0.4),(0.7,-1.6),(1.2,-1.9),(1.8,-1.4),(2.3,-1.2),(2.9,-0.8),(3.2,-0.4),(0.9,-2.8),(1.4,-3.1),(2.0,-2.6),(2.6,-2.9),(3.1,-2.0),(3.6,-1.8),(1.1,-4.0),(1.7,-4.4),(2.3,-4.0),(2.8,-3.6),(1.3,-5.0),(2.1,-5.6),(3.4,-5.5),(1.7,-7.8),(2.3,-8.0),(2.9,-8.1),(2.6,-6.7),(0.1,-10.3),(0.4,-11.2),(1.5,-16.5),(3.0,8.6),(3.5,8.2),(3.3,7.0),(2.8,3.2),(2.5,2.0),
(0.3,23.8),(0.4,22.0),(0.1,19.2),(0.3,16.8),(0.2,14.2),(0.4,12.0),(0.8,10.4),(1.3,10.6),(1.9,9.0),(3.4,4.4),(3.9,3.8),(4.4,4.6),(5.4,5.0),(4.0,7.8),(4.8,9.0),(6.0,8.0),(7.6,9.5),(8.8,10.6),(9.8,9.0),(11.3,9.6),(12.4,10.6),(14.8,12.6),(15.5,15.4),(17.4,14.7),(18.9,14.8),(24.0,22.2),(25.7,24.0),(27.9,26.1),(30.0,28.6),(31.7,29.8),(40.7,38.4),(43.6,40.8),(46.7,45.0),(50.6,47.5),(53.0,51.0),(55.2,52.8),(58.6,55.8),(60.8,58.4),(63.0,59.0),(64.2,60.0),(66.7,64.0),(68.5,65.0),(70.2,65.8),(72.4,68.0),(74.6,70.0),(76.0,71.0),(78.4,74.0),(79.8,75.6),(81.0,76.8),(83.6,79.0),(85.4,81.0),(88.4,83.6)]

XMAJ50 = [0, 10, 20, 30, 40, 50]
YT_100by10 = list(range(0, 101, 10))
YT_50by5 = list(range(0, 51, 5))
XT_100by20 = [0, 20, 40, 60, 80, 100]

sns.set_style("white")
plt.rcParams["font.family"] = ["Lato", "DejaVu Sans"]


def rx(px):
    return px / W


def ry(py):
    return 1 - py / H


fig = plt.figure(figsize=(W / 100, H / 100), dpi=100, facecolor="white")


def panel(pts, box, xlim, ylim, xt, yt, titulo, t_xy, xl_xy, yl_xy):
    l, t, r, b = box
    ax = fig.add_axes([rx(l), ry(b), (r - l) / W, (b - t) / H])
    df = pd.DataFrame(pts, columns=["bf", "hddm"])
    sns.scatterplot(data=df, x="bf", y="hddm", color=RED, s=25, linewidth=0,
                    ax=ax, clip_on=False, zorder=4)
    fin = min(xlim[1], ylim[1])
    ax.plot([0, fin], [0, fin], color="black", lw=1.5, dashes=(9, 5), zorder=3)
    ax.set_xlim(*xlim)
    ax.set_ylim(*ylim)
    ax.set_xticks(xt)
    ax.set_yticks(yt)
    ax.set_xlabel("")
    ax.set_ylabel("")
    ax.tick_params(axis="both", length=5.5, width=1.1, color="#404040", pad=9,
                   labelsize=16.5, labelcolor="#111111", bottom=True, left=True)
    for s in ["top", "right"]:
        ax.spines[s].set_color("#8a8a8a")
        ax.spines[s].set_linewidth(1.6)
        ax.spines[s].set_visible(True)
    ax.spines["left"].set_color("#303030")
    ax.spines["left"].set_linewidth(1.4)
    ax.spines["bottom"].set_color("#404040")
    ax.spines["bottom"].set_linewidth(1.6)
    if ylim[0] < 0:
        # el eje x cruza en cero, abajo queda el borde gris
        ax.spines["bottom"].set_position(("data", 0))
        ax.axhline(ylim[0], color="#8a8a8a", lw=3, clip_on=False, zorder=1)
    fig.text(rx(t_xy[0]), ry(t_xy[1]), titulo, ha="center", va="center",
             fontsize=19.5, fontweight="bold", color="black")
    fig.text(rx(xl_xy[0]), ry(xl_xy[1]), "Brute Force Run (ppb)", ha="center", va="center",
             fontsize=17.3, fontweight="bold", color="black")
    fig.text(rx(yl_xy[0]), ry(yl_xy[1]), "HDDM Run (ppb)", ha="center", va="center",
             rotation=90, fontsize=17.3, fontweight="bold", color="black", zorder=10)
    return ax


panel(got_jan0, (104, 200, 640, 661), (0, 50), (0, 50), XMAJ50, XMAJ50,
      "0% US Emissions (January)", (342, 131), (372, 723), (44, 432))
panel(got_jul0, (745, 197, 1292, 648), (0, 100), (0, 100), YT_100by10, YT_100by10,
      "0% US Emissions (July)", (993, 131), (1017, 711), (690, 425))
panel(got_jan100, (103, 843, 640, 1284), (0, 50), (0, 50), XMAJ50, YT_50by5,
      "100% US Emissions (January)", (342, 779), (370, 1343), (48, 1061))
panel(got_jul100, (745, 831, 1291, 1283), (0, 100), (0, 100), XT_100by20, XT_100by20,
      "100% US Emissions (July)", (991, 765), (1017, 1343), (686, 1055))
panel(den_jan0, (1775, 200, 2310, 660), (0, 50), (0, 50), XMAJ50, XMAJ50,
      "0% US Emissions (January)", (2012, 131), (2043, 722), (1715, 432))
panel(den_jul0, (2417, 196, 2962, 647), (0, 100), (0, 100), YT_100by10, YT_100by10,
      "0% US Emissions (July)", (2662, 131), (2689, 709), (2359, 419))
panel(den_jan100, (1774, 842, 2310, 1283), (0, 50), (-10, 50), XMAJ50, [-10, 0, 10, 20, 30, 40, 50],
      "100% US Emissions (January)", (2013, 778), (2042, 1304), (1721, 1061))
panel(den_jul100, (2417, 829, 2962, 1281), (0, 100), (-20, 100), XT_100by20, [-20, 0, 20, 40, 60, 80, 100],
      "100% US Emissions (July)", (2662, 763), (2689, 1302), (2357, 1053))

# marcos de cada grupo
marcos = [
    ((22, 96), (664, 96)), ((664, 97), (1322, 97)), ((22, 96), (22, 1348)),
    ((664, 96), (664, 1348)), ((1322, 97), (1322, 1348)),
    ((22, 743), (664, 743)), ((664, 727), (1322, 727)),
    ((1693, 95), (2334, 95)), ((2334, 95), (2948, 95)), ((1693, 95), (1693, 1348)),
    ((2334, 95), (2334, 1348)), ((1693, 743), (2334, 743)), ((2334, 727), (2948, 727)),
]
for (x0, y0), (x1, y1) in marcos:
    fig.add_artist(Line2D([rx(x0), rx(x1)], [ry(y0), ry(y1)], color="#2b2b2b", lw=1.2))

fig.text(rx(760), ry(58), "Gothic \u2013 Rural/Clean", ha="center", va="center",
         fontsize=49.5, fontweight="bold", color="black")
fig.text(rx(2255), ry(58), "Denver \u2013 Urban/Polluted", ha="center", va="center",
         fontsize=49.5, fontweight="bold", color="black")

for txt, yy in [("US", 334), ("Background", 411), ("(0%)", 488),
                ("Full", 949), ("Emissions", 1026), ("(100%)", 1103)]:
    fig.text(rx(1504), ry(yy), txt, ha="center", va="center", fontsize=42.5, color="#111111")

fig.savefig("out.png", dpi=100)
